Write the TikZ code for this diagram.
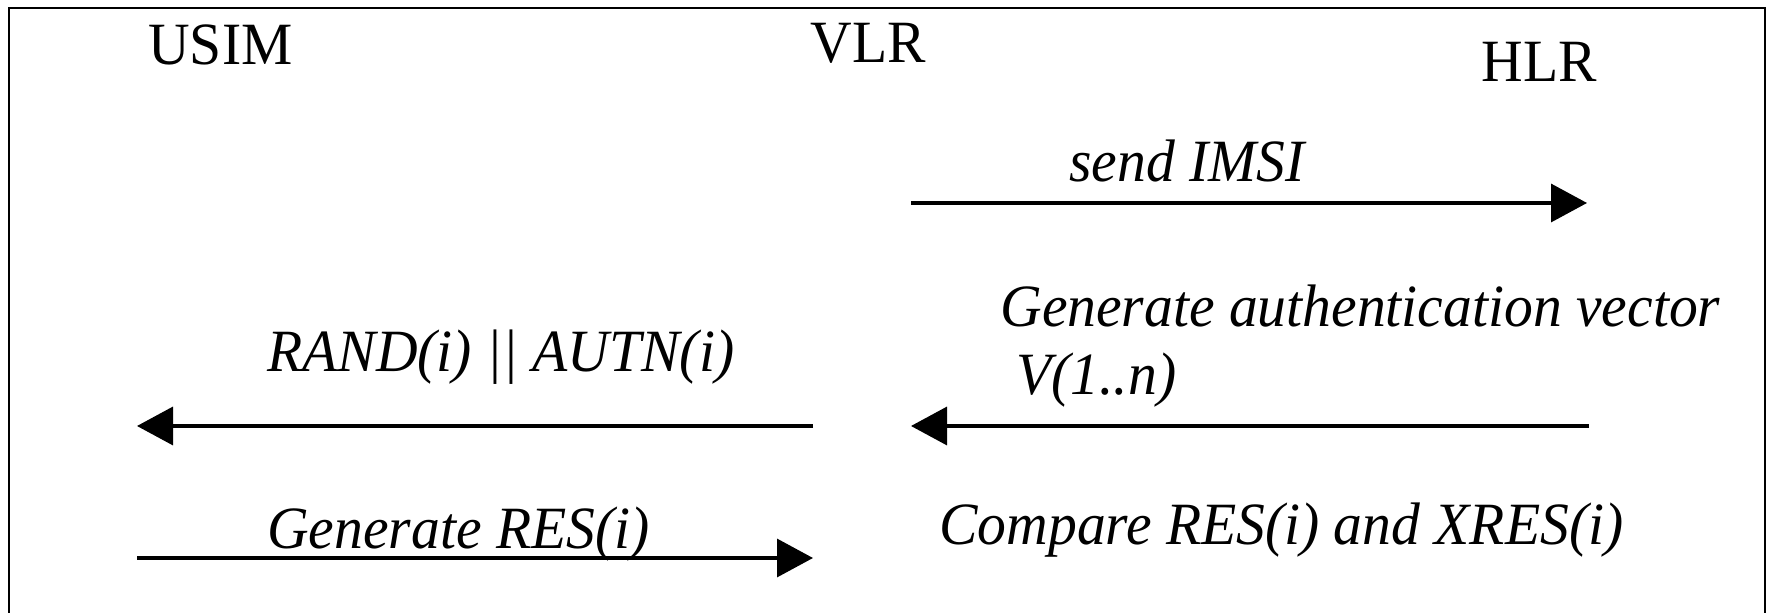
\documentclass[tikz,border=0pt]{standalone}
\usepackage{fontspec}
\setmainfont{Liberation Serif}[FakeStretch=0.96]
\usepackage{tikz}
\usetikzlibrary{
  arrows.meta,
  positioning,
}

\begin{document}
\begin{tikzpicture}[
  x=0.5pt, y=-0.5pt,
  ent/.style={anchor=base west, inner sep=0pt,
              font=\fontsize{30}{36}\selectfont},
  msg/.style={anchor=base west, inner sep=0pt,
              font=\fontsize{30}{36}\selectfont\itshape},
  flow/.style={-{Triangle[length=18pt, width=19pt]}, line width=1.7pt},
  frame/.style={line width=1pt},
]
  \useasboundingbox (0,0) rectangle (1770,613);

  % outer box, cut open at the bottom
  \draw[frame] (9,613) -- (9,8) -- (1765,8) -- (1765,613);

  % the three parties along the top
  \node[ent] (usim) at ( 148, 65) {USIM};
  \node[ent] (vlr)  at ( 810, 63) {VLR};
  \node[ent] (hlr)  at (1481, 82) {HLR};

  % end points of the messages
  \coordinate (imsiS) at ( 911,203);
  \coordinate (imsiE) at (1587,203);
  \coordinate (avS)   at (1589,426);
  \coordinate (avE)   at ( 911,426);
  \coordinate (randS) at ( 813,426);
  \coordinate (randE) at ( 137,426);
  \coordinate (resS)  at ( 137,558);
  \coordinate (resE)  at ( 813,558);

  % message labels
  \node[msg] (imsi) at (1069,182) {send IMSI};
  \node[msg] (gen)  at (1000,327) {Generate authentication vector};
  \node[msg] (vec)  at (1016,395) {V(1..n)};
  \node[msg] (rand) at ( 267,372) {RAND(i) || AUTN(i)};
  \node[msg] (res)  at ( 267,549) {Generate RES(i)};
  \node[msg] (cmp)  at ( 939,545) {Compare RES(i) and XRES(i)};

  \draw[flow] (imsiS) -- (imsiE);
  \draw[flow] (avS)   -- (avE);
  \draw[flow] (randS) -- (randE);
  \draw[flow] (resS)  -- (resE);
\end{tikzpicture}
\end{document}
